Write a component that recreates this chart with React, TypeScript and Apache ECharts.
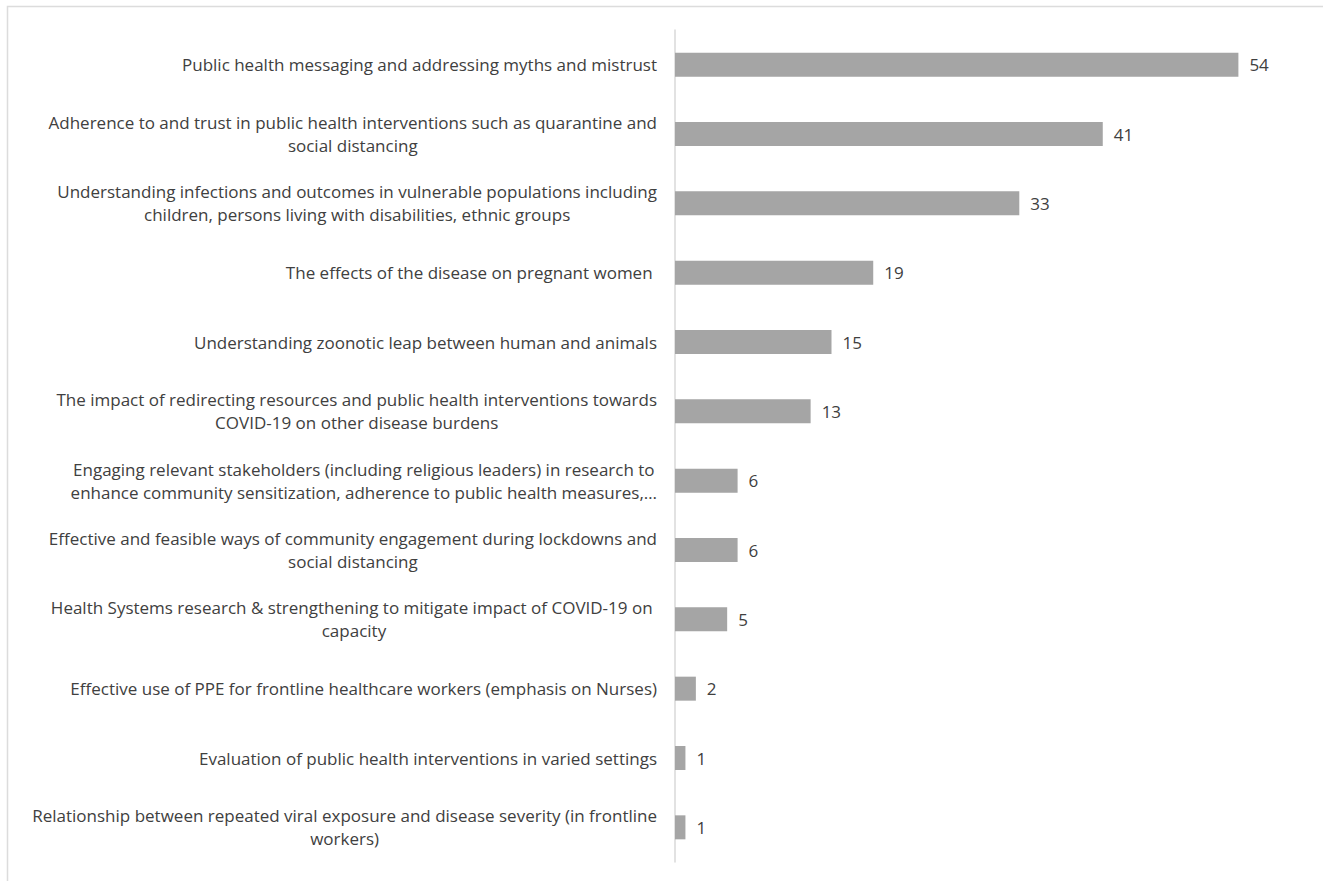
import React, { useEffect, useRef } from "react";
import * as echarts from "echarts";

const categories: string[] = [
  "Public health messaging and addressing myths and mistrust",
  "Adherence to and trust in public health interventions such as quarantine and\nsocial distancing",
  "Understanding infections and outcomes in vulnerable populations including\nchildren, persons living with disabilities, ethnic groups",
  "The effects of the disease on pregnant women ",
  "Understanding zoonotic leap between human and animals",
  "The impact of redirecting resources and public health interventions towards\nCOVID-19 on other disease burdens",
  "Engaging relevant stakeholders (including religious leaders) in research to\nenhance community sensitization, adherence to public health measures,…",
  "Effective and feasible ways of community engagement during lockdowns and\nsocial distancing",
  "Health Systems research & strengthening to mitigate impact of COVID-19 on \ncapacity",
  "Effective use of PPE for frontline healthcare workers (emphasis on Nurses)",
  "Evaluation of public health interventions in varied settings",
  "Relationship between repeated viral exposure and disease severity (in frontline\nworkers)",
];

const values: number[] = [54, 41, 33, 19, 15, 13, 6, 6, 5, 2, 1, 1];

const FONT = "'Open Sans', sans-serif";
const TEXT_COLOR = "#404040";

export default function App() {
  const ref = useRef<HTMLDivElement>(null);

  useEffect(() => {
    document.body.style.margin = "0";
    if (!ref.current) return;
    const chart = echarts.init(ref.current, undefined, { renderer: "svg" });
    chart.setOption({
      animation: false,
      backgroundColor: "#ffffff",
      graphic: [
        {
          type: "rect",
          shape: { x: 7.5, y: 6.5, width: 1400, height: 1000 },
          style: { fill: "none", stroke: "#dcdcdc", lineWidth: 1.5 },
          silent: true,
        },
      ],
      grid: { left: 675, top: 30, width: 626, height: 832 },
      xAxis: {
        type: "value",
        min: 0,
        max: 60,
        show: false,
      },
      yAxis: {
        type: "category",
        data: categories,
        inverse: true,
        axisTick: { show: false },
        axisLine: { show: true, lineStyle: { color: "#d9d9d9", width: 1.5 } },
        splitLine: { show: false },
        axisLabel: {
          margin: 18,
          align: "right",
          fontFamily: FONT,
          fontSize: 17,
          color: TEXT_COLOR,
          lineHeight: 23,
          formatter: (v: string) =>
            v
              .split("\n")
              .map((l) => `{c|${l}}`)
              .join("\n"),
          rich: {
            c: {
              align: "center",
              fontFamily: FONT,
              fontSize: 17,
              color: TEXT_COLOR,
              lineHeight: 23,
            },
          },
        },
      },
      series: [
        {
          type: "bar",
          data: values,
          barWidth: 24,
          itemStyle: { color: "#a5a5a5" },
          label: {
            show: true,
            position: "right",
            distance: 11,
            fontFamily: FONT,
            fontSize: 17,
            color: TEXT_COLOR,
          },
        },
      ],
    });
    return () => chart.dispose();
  }, []);

  return <div ref={ref} style={{ width: 1323, height: 881 }} />;
}
